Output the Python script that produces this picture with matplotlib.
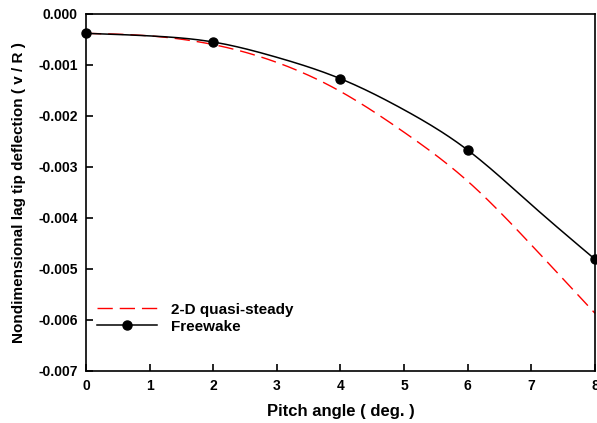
import numpy as np
import matplotlib
matplotlib.use("Agg")
import matplotlib.pyplot as plt
from matplotlib.lines import Line2D

plt.rcParams['font.family'] = ['Liberation Sans', 'DejaVu Sans']
plt.rcParams['font.weight'] = 'bold'

# Pitch angle (deg.) and lag tip deflection v/R
pitch = [0, 1, 2, 3, 4, 5, 6, 7, 8]
quasi_steady = [-0.00038, -0.00043, -0.00060, -0.00095, -0.00152, -0.00232, -0.00328, -0.00453, -0.00587]
freewake_line = [-0.00038, -0.00043, -0.00055, -0.00085, -0.00127, -0.00188, -0.00267, -0.00374, -0.00481]
marker_pitch = [0, 2, 4, 6, 8]
freewake_pts = [-0.00038, -0.00055, -0.00127, -0.00267, -0.00481]


def natural_spline(x, y, n=200):
    x = np.asarray(x, float)
    y = np.asarray(y, float)
    k = len(x)
    h = np.diff(x)
    A = np.zeros((k, k))
    b = np.zeros(k)
    A[0, 0] = A[-1, -1] = 1
    for i in range(1, k - 1):
        A[i, i - 1] = h[i - 1]
        A[i, i] = 2 * (h[i - 1] + h[i])
        A[i, i + 1] = h[i]
        b[i] = 6 * ((y[i + 1] - y[i]) / h[i] - (y[i] - y[i - 1]) / h[i - 1])
    M = np.linalg.solve(A, b)
    xs = np.linspace(x[0], x[-1], n)
    idx = np.clip(np.searchsorted(x, xs) - 1, 0, k - 2)
    x0, x1 = x[idx], x[idx + 1]
    hh = x1 - x0
    t0, t1 = x1 - xs, xs - x0
    ys = (M[idx] * t0 ** 3 + M[idx + 1] * t1 ** 3) / (6 * hh) \
        + (y[idx] / hh - M[idx] * hh / 6) * t0 \
        + (y[idx + 1] / hh - M[idx + 1] * hh / 6) * t1
    return xs, ys


fig = plt.figure(figsize=(5.97, 4.23), dpi=100)
ax = fig.add_axes([0.144, 0.123, 0.8527, 0.844])

xs, ys = natural_spline(pitch, quasi_steady)
ax.plot(xs, ys, color='#ff0000', lw=1.0, dashes=(11, 5), clip_on=False)
xs, ys = natural_spline(pitch, freewake_line)
ax.plot(xs, ys, color='black', lw=1.1, clip_on=False)
ax.plot(marker_pitch, freewake_pts, 'o', color='black', ms=6.5, clip_on=False, zorder=5)

ax.set_xlim(0, 8)
ax.set_ylim(-0.007, 0.0)
ax.set_xticks(range(0, 9))
ax.set_yticks(np.arange(-0.007, 0.0001, 0.001))
ax.set_yticklabels([f"{v:.3f}" for v in np.arange(-0.007, 0.0001, 0.001)])
ax.tick_params(direction='in', length=5, width=1.2, labelsize=10)
ax.tick_params(axis='x', pad=5.5)
ax.tick_params(axis='y', pad=6)
for lab in ax.get_xticklabels() + ax.get_yticklabels():
    lab.set_fontweight('bold')
for s in ax.spines.values():
    s.set_linewidth(1.2)

ax.set_xlabel('Pitch angle ( deg. )', fontsize=12, fontweight='bold', labelpad=8)
ax.set_ylabel('Nondimensional lag tip deflection ( v / R )', fontsize=11, fontweight='bold', labelpad=9)

handles = [
    Line2D([], [], color='#ff0000', lw=1.0, dashes=(11, 5)),
    Line2D([], [], color='black', lw=1.1, marker='o', ms=6.5),
]
ax.legend(handles, ['2-D quasi-steady', 'Freewake'], loc='center left',
          bbox_to_anchor=(0.022, 0.148), frameon=False,
          handlelength=3.9, handletextpad=0.9, labelspacing=0.2,
          borderaxespad=0.0, borderpad=0.0, prop={'weight': 'bold', 'size': 11})

fig.savefig('out.png', dpi=100)
